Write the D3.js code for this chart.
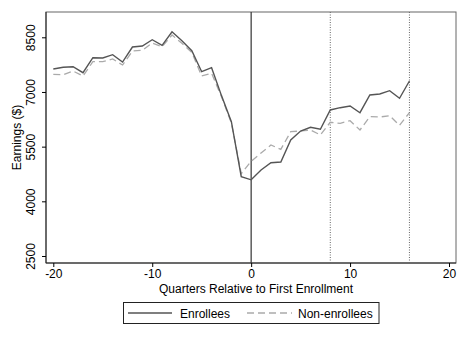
<!DOCTYPE html>
<html>
<head>
<meta charset="utf-8" />
<title></title>
<style>
  body { margin: 0; background: #fff; }
  text { font-family: "Liberation Sans", Arial, sans-serif; fill: #000; }
</style>
</head>
<body>
<div id="chart"></div>
<script src="https://d3js.org/d3.v7.min.js"></script>
<script>
  const quarters = d3.range(-20, 17);
  const enrollees = [7630, 7677, 7694, 7529, 7940, 7932, 8023, 7822, 8234, 8261,
    8434, 8280, 8650, 8407, 8132, 7556, 7666, 6900, 6185, 4676,
    4590, 4860, 5060, 5079, 5682, 5929, 6030, 5976, 6506, 6569,
    6615, 6431, 6917, 6944, 7035, 6826, 7301];
  const nonEnrollees = [7485, 7474, 7575, 7438, 7831, 7831, 7905, 7740, 8124, 8143,
    8344, 8242, 8563, 8335, 8088, 7438, 7512, 6870, 6150, 4760,
    5100, 5325, 5545, 5425, 5910, 5929, 5957, 5820, 6168, 6140,
    6212, 5957, 6322, 6313, 6350, 6085, 6431];
  const xTicks = [-20, -10, 0, 10, 20];
  const yTicks = [2500, 4000, 5500, 7000, 8500];
  const refLines = [8, 16];

  const width = 468, height = 340;
  const pLeft = 46, pRight = 456, pTop = 12, pBottom = 263;

  const svg = d3.select("#chart").append("svg")
    .attr("width", width).attr("height", height);

  const x = d3.scaleLinear().domain([-20, 20]).range([53.3, 449]);
  const y = d3.scaleLinear().domain([2500, 8500]).range([256, 37.3]);

  // frame
  svg.append("rect")
    .attr("x", pLeft).attr("y", pTop)
    .attr("width", pRight - pLeft).attr("height", pBottom - pTop)
    .attr("fill", "none").attr("stroke", "#666").attr("stroke-width", 1);

  // x axis (plain hyphen for negatives, like the original)
  const xAxis = svg.append("g")
    .attr("transform", `translate(0,${pBottom})`)
    .call(d3.axisBottom(x).tickValues(xTicks).tickSize(4).tickPadding(2)
      .tickFormat(d => String(d)));
  xAxis.select(".domain").attr("d", `M${pLeft},0H${pRight}`).attr("stroke", "#222");
  xAxis.selectAll("text").style("font-size", "12px").style("font-family", "Liberation Sans, Arial, sans-serif");

  // y axis
  const yAxis = svg.append("g")
    .attr("transform", `translate(${pLeft},0)`)
    .call(d3.axisLeft(y).tickValues(yTicks).tickSize(4).tickFormat(d3.format("d")));
  yAxis.select(".domain").attr("d", `M0,${pTop}V${pBottom}`).attr("stroke", "#222");
  yAxis.selectAll(".tick text")
    .attr("x", 0).attr("y", 0).attr("dy", 0)
    .attr("transform", "translate(-11,0) rotate(-90)")
    .attr("text-anchor", "middle")
    .style("font-size", "12px").style("font-family", "Liberation Sans, Arial, sans-serif");

  // reference lines
  svg.append("line")
    .attr("x1", x(0)).attr("x2", x(0)).attr("y1", pTop).attr("y2", pBottom)
    .attr("stroke", "#333").attr("stroke-width", 1.2);
  svg.selectAll("line.ref").data(refLines).enter().append("line")
    .attr("class", "ref")
    .attr("x1", d => x(d)).attr("x2", d => x(d)).attr("y1", pTop).attr("y2", pBottom)
    .attr("stroke", "#666").attr("stroke-width", 1).attr("stroke-dasharray", "1,1.5");

  const line = d3.line().x((d, i) => x(quarters[i])).y(d => y(d));

  svg.append("path").datum(nonEnrollees)
    .attr("d", line).attr("fill", "none")
    .attr("stroke", "#aaa").attr("stroke-width", 1.3).attr("stroke-dasharray", "7,4");
  svg.append("path").datum(enrollees)
    .attr("d", line).attr("fill", "none")
    .attr("stroke", "#555").attr("stroke-width", 1.4);

  // axis titles
  svg.append("text")
    .attr("x", (pLeft + pRight) / 2 + 5).attr("y", 293)
    .attr("text-anchor", "middle").style("font-size", "12px")
    .text("Quarters Relative to First Enrollment");
  svg.append("text")
    .attr("transform", `translate(21,${(pTop + pBottom) / 2}) rotate(-90)`)
    .attr("text-anchor", "middle").style("font-size", "12px")
    .text("Earnings ($)");

  // legend
  const lg = svg.append("g");
  lg.append("rect")
    .attr("x", 123.5).attr("y", 302.5).attr("width", 255.5).attr("height", 21)
    .attr("fill", "#fff").attr("stroke", "#222").attr("stroke-width", 1);
  lg.append("line").attr("x1", 128).attr("x2", 172).attr("y1", 313).attr("y2", 313)
    .attr("stroke", "#555").attr("stroke-width", 1.4);
  lg.append("text").attr("x", 180).attr("y", 317.5).style("font-size", "12px").text("Enrollees");
  lg.append("line").attr("x1", 247).attr("x2", 292).attr("y1", 313).attr("y2", 313)
    .attr("stroke", "#aaa").attr("stroke-width", 1.3).attr("stroke-dasharray", "7,4");
  lg.append("text").attr("x", 298).attr("y", 317.5).style("font-size", "12px").text("Non-enrollees");
</script>
</body>
</html>
